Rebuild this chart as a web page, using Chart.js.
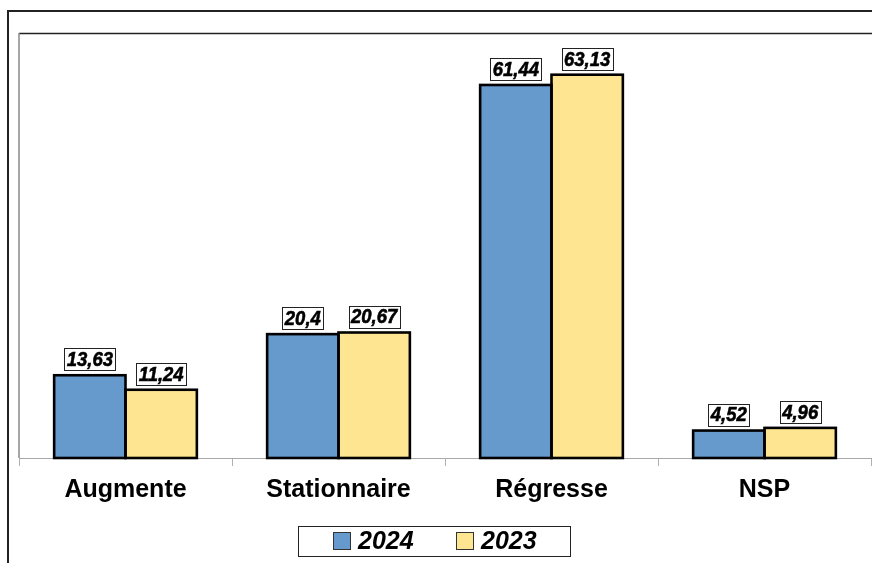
<!DOCTYPE html>
<html>
<head>
<meta charset="utf-8">
<script src="https://cdn.jsdelivr.net/npm/chart.js@4.4.1/dist/chart.umd.min.js"></script>
<style>
  html, body { margin: 0; padding: 0; background: #fff; }
  #wrap { width: 872px; height: 563px; }
</style>
</head>
<body>
<div id="wrap"><canvas id="chart" width="872" height="563"></canvas></div>
<script>
// données du graphique
const categories = ['Augmente', 'Stationnaire', 'Régresse', 'NSP'];
const serie2024 = [13.63, 20.4, 61.44, 4.52];
const serie2023 = [11.24, 20.67, 63.13, 4.96];
const seriesLabels = ['2024', '2023'];

const FONT = '"Liberation Sans", Arial, sans-serif';
const BLUE = 'rgb(102,153,204)';
const YELLOW = 'rgb(254,229,145)';

// format français : virgule décimale
const fmt = (v) => String(v).replace('.', ',');

// cadre extérieur et bord de la zone de tracé
const framePlugin = {
    id: 'frame',
    afterDraw(chart) {
        const { ctx, chartArea } = chart;
        ctx.save();
        ctx.strokeStyle = '#222';
        ctx.lineWidth = 2;
        ctx.beginPath();
        ctx.moveTo(8, 563);
        ctx.lineTo(8, 11);
        ctx.lineTo(872, 11);
        ctx.stroke();

        ctx.lineWidth = 1.5;
        ctx.strokeStyle = '#222';
        ctx.beginPath();
        ctx.moveTo(chartArea.left, 33.5);
        ctx.lineTo(872, 33.5);
        ctx.stroke();
        ctx.strokeStyle = '#888';
        ctx.beginPath();
        ctx.moveTo(19, 33);
        ctx.lineTo(19, chartArea.bottom);
        ctx.stroke();
        ctx.restore();
    }
};

// contour noir des barres, centré sur les bords (bord commun = un seul trait)
const barOutline = {
    id: 'barOutline',
    afterDatasetsDraw(chart) {
        const { ctx } = chart;
        ctx.save();
        ctx.strokeStyle = '#000';
        ctx.lineWidth = 2.6;
        ctx.lineJoin = 'miter';
        chart.data.datasets.forEach((ds, i) => {
            chart.getDatasetMeta(i).data.forEach((bar) => {
                const { x, y, base, width } = bar.getProps(['x', 'y', 'base', 'width'], true);
                ctx.strokeRect(x - width / 2, y, width, base - y);
            });
        });
        ctx.restore();
    }
};

// étiquettes de valeurs encadrées au-dessus des barres
const valueLabels = {
    id: 'valueLabels',
    afterDatasetsDraw(chart) {
        const { ctx } = chart;
        ctx.save();
        ctx.font = 'italic bold 21px ' + FONT;
        ctx.textBaseline = 'middle';
        ctx.textAlign = 'center';
        chart.data.datasets.forEach((ds, i) => {
            const meta = chart.getDatasetMeta(i);
            meta.data.forEach((bar, j) => {
                const txt = fmt(ds.data[j]);
                const sx = 0.88;
                const w = ctx.measureText(txt).width * sx + 5;
                const h = 22;
                const cx = bar.x;
                const bottom = bar.y - 5;
                const top = bottom - h;
                ctx.fillStyle = '#fff';
                ctx.fillRect(cx - w / 2, top, w, h);
                ctx.strokeStyle = '#222';
                ctx.lineWidth = 1;
                ctx.strokeRect(Math.round(cx - w / 2) + 0.5, Math.round(top) + 0.5, Math.round(w), h);
                ctx.fillStyle = '#000';
                ctx.save();
                ctx.translate(cx, top + h / 2 + 1);
                ctx.scale(sx, 1);
                ctx.fillText(txt, 0, 0);
                // un peu plus gras, comme dans l'original
                ctx.strokeStyle = '#000';
                ctx.lineWidth = 0.6;
                ctx.strokeText(txt, 0, 0);
                ctx.restore();
            });
        });
        ctx.restore();
    }
};

// légende encadrée en bas
const boxLegend = {
    id: 'boxLegend',
    afterDraw(chart) {
        const { ctx } = chart;
        ctx.save();
        ctx.strokeStyle = '#222';
        ctx.lineWidth = 1;
        ctx.strokeRect(298.5, 526.5, 272, 30);
        const items = [
            { x: 333, color: BLUE, text: seriesLabels[0] },
            { x: 456, color: YELLOW, text: seriesLabels[1] }
        ];
        ctx.font = 'italic bold 25px ' + FONT;
        ctx.textBaseline = 'middle';
        ctx.textAlign = 'left';
        items.forEach((it) => {
            ctx.fillStyle = it.color;
            ctx.fillRect(it.x, 532, 17, 17);
            ctx.strokeStyle = '#333';
            ctx.strokeRect(it.x + 0.5, 532.5, 17, 17);
            ctx.fillStyle = '#000';
            ctx.fillText(it.text, it.x + 25, 542);
        });
        ctx.restore();
    }
};

new Chart(document.getElementById('chart'), {
    type: 'bar',
    data: {
        labels: categories,
        datasets: [
            {
                label: seriesLabels[0],
                data: serie2024,
                backgroundColor: BLUE,
                borderWidth: 0
            },
            {
                label: seriesLabels[1],
                data: serie2023,
                backgroundColor: YELLOW,
                borderWidth: 0
            }
        ]
    },
    options: {
        responsive: false,
        animation: false,
        layout: { padding: { left: 19, top: 33, right: 1, bottom: 0 } },
        datasets: { bar: { categoryPercentage: 0.67, barPercentage: 1.0, inflateAmount: 0 } },
        plugins: {
            legend: { display: false },
            tooltip: { enabled: false }
        },
        scales: {
            x: {
                grid: {
                    offset: true,
                    drawOnChartArea: false,
                    tickLength: 8,
                    color: '#b0b0b0'
                },
                border: { color: '#a8a8a8', width: 1 },
                ticks: {
                    color: '#000',
                    padding: 9,
                    font: { family: FONT, size: 25, weight: 'bold' }
                },
                afterFit(scale) { scale.height = 105; }
            },
            y: {
                display: false,
                min: 0,
                max: 70
            }
        }
    },
    plugins: [framePlugin, barOutline, valueLabels, boxLegend]
});
</script>
</body>
</html>
